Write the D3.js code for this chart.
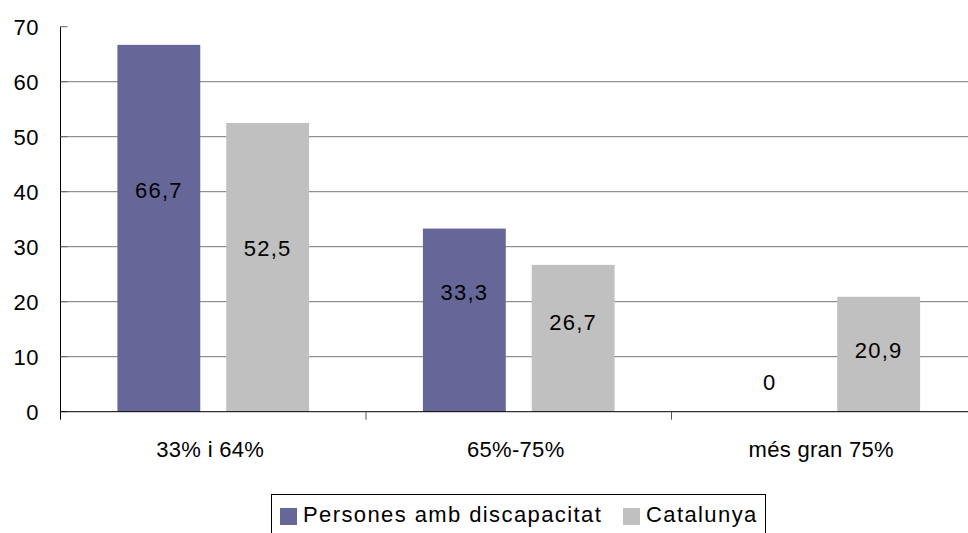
<!DOCTYPE html>
<html lang="ca">
<head>
  <meta charset="UTF-8">
  <title>Grau de discapacitat</title>
  <script src="https://d3js.org/d3.v7.min.js"></script>
  <style>
    body {
      margin: 0;
      font-family: "Liberation Sans", Arial, sans-serif;
      background: #fff;
    }
    svg text {
      fill: #000;
    }
  </style>
</head>
<body>
  <div id="chart"></div>

  <script>
    // dades
    const categories = ["33% i 64%", "65%-75%", "més gran 75%"];
    const seriesNames = ["Persones amb discapacitat", "Catalunya"];
    const persones = [66.7, 33.3, 0];
    const catalunya = [52.5, 26.7, 20.9];
    const yTicks = [0, 10, 20, 30, 40, 50, 60, 70];
    // on cau cada etiqueta de valor (en unitats de l'eix)
    const labelLevelPersones = [40.3, 21.8, 5.4];
    const labelLevelCatalunya = [29.8, 16.3, 11.1];

    const colors = ["#666699", "#C0C0C0"];

    const width = 968, height = 533;
    const plotLeft = 60.5, plotRight = 977, plotTop = 26.7, plotBottom = 411.7;

    const svg = d3.select("#chart")
                  .append("svg")
                  .attr("width", width)
                  .attr("height", height);

    const y = d3.scaleLinear()
                .domain([0, 70])
                .range([plotBottom, plotTop]);

    const x0 = d3.scaleBand()
                 .domain(categories)
                 .range([plotLeft, plotRight]);

    const x1 = d3.scaleBand()
                 .domain(seriesNames)
                 .range([0, x0.bandwidth()])
                 .paddingInner(0.2385)
                 .paddingOuter(0.523);

    // línies de graella
    svg.append("g")
       .selectAll("line")
       .data(yTicks.filter(d => d > 0 && d < 70))
       .enter()
       .append("line")
       .attr("x1", plotLeft)
       .attr("x2", width)
       .attr("y1", d => y(d))
       .attr("y2", d => y(d))
       .attr("stroke", "#777")
       .attr("stroke-width", 1);

    const rows = categories.map((c, i) => ({cat: c, vals: [persones[i], catalunya[i]],
                                            lv: [labelLevelPersones[i], labelLevelCatalunya[i]]}));

    const groups = svg.selectAll(".grp")
                      .data(rows)
                      .enter()
                      .append("g")
                      .attr("class", "grp")
                      .attr("transform", d => `translate(${x0(d.cat)},0)`);

    groups.selectAll("rect")
          .data(d => d.vals.map((v, j) => ({s: seriesNames[j], v, j})))
          .enter()
          .append("rect")
          .attr("x", d => x1(d.s))
          .attr("width", x1.bandwidth())
          .attr("y", d => y(d.v))
          .attr("height", d => y(0) - y(d.v))
          .attr("fill", d => colors[d.j]);

    const fmt = v => d3.format(".1~f")(v).replace(".", ",");

    groups.selectAll(".lbl")
          .data(d => d.vals.map((v, j) => ({s: seriesNames[j], v, lv: d.lv[j]})))
          .enter()
          .append("text")
          .attr("class", "lbl")
          .attr("x", d => x1(d.s) + x1.bandwidth() / 2)
          .attr("y", d => y(d.lv))
          .attr("dy", "0.35em")
          .attr("text-anchor", "middle")
          .style("font-size", "22px")
          .style("letter-spacing", "1.2px")
          .text(d => fmt(d.v));

    // eix Y
    const yAxis = svg.append("g");
    yAxis.append("line")
         .attr("x1", plotLeft).attr("x2", plotLeft)
         .attr("y1", plotTop).attr("y2", plotBottom + 8)
         .attr("stroke", "#000");
    yAxis.selectAll(".tk")
         .data(yTicks)
         .enter()
         .append("line")
         .attr("x1", plotLeft).attr("x2", plotLeft + 7)
         .attr("y1", d => y(d)).attr("y2", d => y(d))
         .attr("stroke", "#666");
    yAxis.selectAll("text")
         .data(yTicks)
         .enter()
         .append("text")
         .attr("x", 39)
         .attr("y", d => y(d))
         .attr("dy", "0.36em")
         .attr("text-anchor", "end")
         .style("font-size", "22px")
         .style("letter-spacing", "0.5px")
         .text(d => d);

    // eix X
    const xAxis = svg.append("g");
    xAxis.append("line")
         .attr("x1", plotLeft).attr("x2", width)
         .attr("y1", y(0)).attr("y2", y(0))
         .attr("stroke", "#000");
    xAxis.selectAll(".tk")
         .data(categories.slice(1))
         .enter()
         .append("line")
         .attr("x1", d => x0(d)).attr("x2", d => x0(d))
         .attr("y1", y(0)).attr("y2", y(0) + 8)
         .attr("stroke", "#555");
    xAxis.selectAll("text")
         .data(categories)
         .enter()
         .append("text")
         .attr("x", d => x0(d) + x0.bandwidth() / 2 - 3)
         .attr("y", 457)
         .attr("text-anchor", "middle")
         .style("font-size", "22px")
         .style("letter-spacing", "0.3px")
         .text(d => d);

    // llegenda
    const legend = svg.append("g");
    legend.append("rect")
          .attr("x", 271.5).attr("y", 494.5)
          .attr("width", 494).attr("height", 50)
          .attr("fill", "none")
          .attr("stroke", "#000");

    const legendX = [280, 623];
    seriesNames.forEach((s, i) => {
      legend.append("rect")
            .attr("x", legendX[i]).attr("y", 508)
            .attr("width", 17).attr("height", 17)
            .attr("fill", colors[i]);
      legend.append("text")
            .attr("x", legendX[i] + 23)
            .attr("y", 521.5)
            .style("font-size", "22px")
            .style("letter-spacing", "1.4px")
            .text(s);
    });
  </script>
</body>
</html>
